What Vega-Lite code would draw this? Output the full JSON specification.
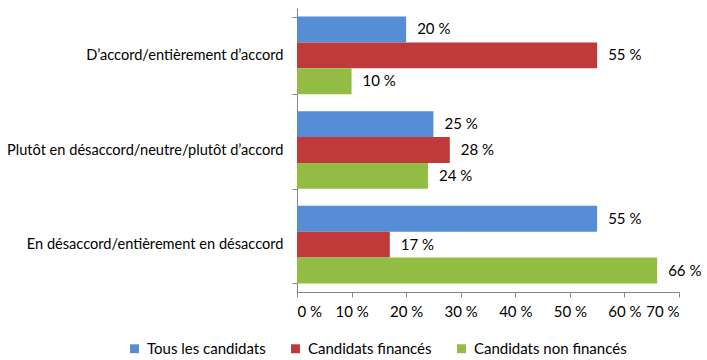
{
  "$schema": "https://vega.github.io/schema/vega-lite/v6.json",
  "width": 382,
  "height": 284,
  "autosize": {"type": "none"},
  "padding": {"left": 297, "top": 8, "right": 28, "bottom": 68},
  "background": "white",
  "config": {
    "font": "Lato",
    "view": {"stroke": null},
    "locale": {"number": {"decimal": ",", "thousands": " ", "grouping": [3], "currency": ["", " €"], "percent": " %"}},
    "axis": {"labelFont": "Lato", "labelFontSize": 15, "labelColor": "#000000", "domainColor": "#868686", "tickColor": "#868686", "grid": false, "title": null}
  },
  "data": {
    "values": [
      {"cat": "D’accord/entièrement d’accord", "serie": "Tous les candidats", "v": 0.20},
      {"cat": "D’accord/entièrement d’accord", "serie": "Candidats financés", "v": 0.55},
      {"cat": "D’accord/entièrement d’accord", "serie": "Candidats non financés", "v": 0.10},
      {"cat": "Plutôt en désaccord/neutre/plutôt d’accord", "serie": "Tous les candidats", "v": 0.25},
      {"cat": "Plutôt en désaccord/neutre/plutôt d’accord", "serie": "Candidats financés", "v": 0.28},
      {"cat": "Plutôt en désaccord/neutre/plutôt d’accord", "serie": "Candidats non financés", "v": 0.24},
      {"cat": "En désaccord/entièrement en désaccord", "serie": "Tous les candidats", "v": 0.55},
      {"cat": "En désaccord/entièrement en désaccord", "serie": "Candidats financés", "v": 0.17},
      {"cat": "En désaccord/entièrement en désaccord", "serie": "Candidats non financés", "v": 0.66}
    ]
  },
  "encoding": {
    "y": {
      "field": "cat", "type": "nominal",
      "sort": ["D’accord/entièrement d’accord", "Plutôt en désaccord/neutre/plutôt d’accord", "En désaccord/entièrement en désaccord"],
      "scale": {"paddingInner": 0.18, "paddingOuter": 0.09},
      "axis": {"tickBand": "extent", "tickSize": 5, "labelPadding": 9, "labelLimit": 400, "labelFontSize": 14.6}
    },
    "yOffset": {
      "field": "serie", "type": "nominal",
      "sort": ["Tous les candidats", "Candidats financés", "Candidats non financés"],
      "scale": {"paddingInner": 0, "paddingOuter": 0}
    },
    "x": {
      "field": "v", "type": "quantitative",
      "scale": {"domain": [0, 0.7], "nice": false},
      "axis": {"format": ".0%", "values": [0, 0.1, 0.2, 0.3, 0.4, 0.5, 0.6, 0.7], "tickSize": 5, "labelPadding": 7}
    }
  },
  "layer": [
    {
      "mark": {"type": "bar"},
      "encoding": {
        "color": {
          "field": "serie", "type": "nominal",
          "sort": ["Tous les candidats", "Candidats financés", "Candidats non financés"],
          "scale": {"range": ["#558ED5", "#C0393B", "#93BC45"]},
          "legend": {
            "title": null, "orient": "none", "direction": "horizontal",
            "legendX": -170, "legendY": 333,
            "symbolType": "square", "symbolSize": 80, "symbolStrokeWidth": 0,
            "labelFont": "Lato", "labelFontSize": 15, "labelColor": "#000000",
            "columnPadding": 22, "symbolOffset": 0, "labelOffset": 5
          }
        }
      }
    },
    {
      "mark": {"type": "text", "align": "left", "baseline": "middle", "dx": 11, "font": "Lato", "fontSize": 15, "color": "#000000"},
      "encoding": {
        "text": {"field": "v", "type": "quantitative", "format": ".0%"}
      }
    }
  ]
}
